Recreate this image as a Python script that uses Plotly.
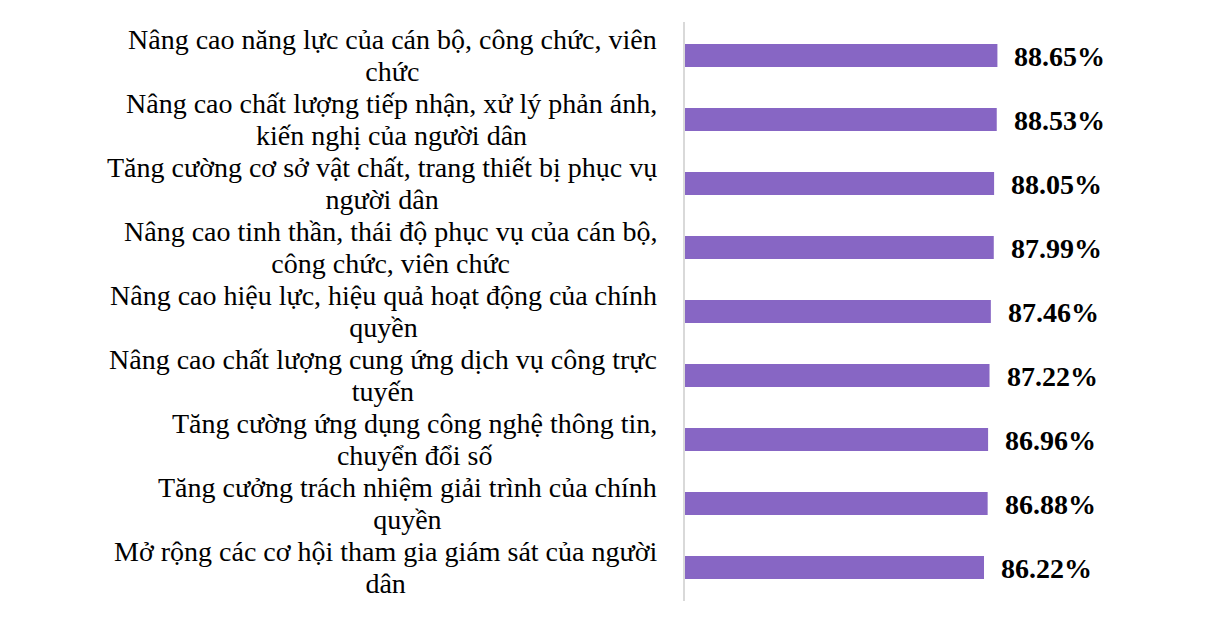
import plotly.graph_objects as go

label_lines = [
    ("Nâng cao năng lực của cán bộ, công chức, viên", "chức"),
    ("Nâng cao chất lượng tiếp nhận, xử lý phản ánh,", "kiến nghị của người dân"),
    ("Tăng cường cơ sở vật chất, trang thiết bị phục vụ", "người dân"),
    ("Nâng cao tinh thần, thái độ phục vụ của cán bộ,", "công chức, viên chức"),
    ("Nâng cao hiệu lực, hiệu quả hoạt động của chính", "quyền"),
    ("Nâng cao chất lượng cung ứng dịch vụ công trực", "tuyến"),
    ("Tăng cường ứng dụng công nghệ thông tin,", "chuyển đổi số"),
    ("Tăng cưởng trách nhiệm giải trình của chính", "quyền"),
    ("Mở rộng các cơ hội tham gia giám sát của người", "dân"),
]
categories = [a + " " + b for a, b in label_lines]
values = [88.65, 88.53, 88.05, 87.99, 87.46, 87.22, 86.96, 86.88, 86.22]
value_labels = [f"{v:.2f}%" for v in values]

FONT = "Liberation Serif, Times New Roman, serif"
BAR_COLOR = "#8766C4"

fig = go.Figure(
    go.Bar(
        x=values,
        y=categories,
        orientation="h",
        marker=dict(color=BAR_COLOR, line=dict(width=0)),
        hoverinfo="skip",
    )
)

annotations = []
for cat, (l1, l2) in zip(categories, label_lines):
    txt = (f"<span style='font-size:28px'>{l1}</span><br>"
           f"<span style='font-size:28px'>{l2}</span>")
    annotations.append(dict(
        x=0, xref="paper", y=cat, yref="y",
        xanchor="right", yanchor="middle", xshift=-26, yshift=0,
        text=txt, align="center", showarrow=False,
        font=dict(family=FONT, size=24.6, color="#000000"),
    ))
for cat, v, lab in zip(categories, values, value_labels):
    annotations.append(dict(
        x=v, xref="x", y=cat, yref="y",
        xanchor="left", yanchor="middle", xshift=15, yshift=-1,
        text=f"<b>{lab}</b>", showarrow=False,
        font=dict(family=FONT, size=28, color="#000000"),
    ))

fig.update_layout(
    width=1226, height=628,
    margin=dict(l=677, r=174, t=14, b=35, pad=0),
    paper_bgcolor="white", plot_bgcolor="white",
    bargap=0.643,
    showlegend=False,
    annotations=annotations,
    font=dict(family=FONT),
)
fig.update_xaxes(range=[32, 100], visible=False, showgrid=False, zeroline=False)
fig.update_yaxes(
    autorange="reversed", showticklabels=False, ticks="",
    showline=True, linecolor="#d9d9d9", linewidth=1.5,
    showgrid=False, zeroline=False,
)

fig.write_html("out.html")
